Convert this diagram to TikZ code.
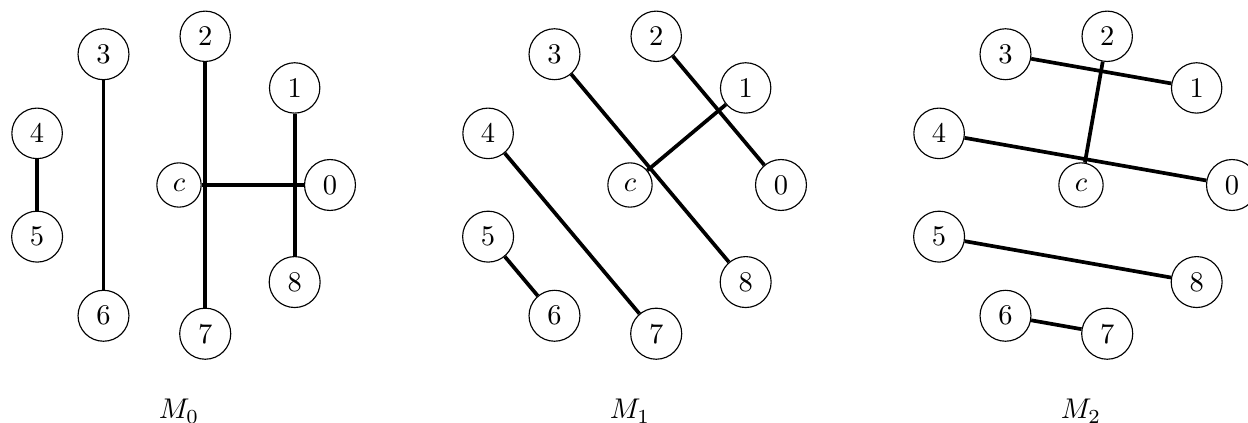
\documentclass[tikz,border=0pt]{standalone}
\begin{document}
\begin{tikzpicture}[x=0.3509pt,y=0.3509pt,
  vtx/.style={circle,draw,line width=0.4pt},
  matchedge/.style={line width=1.3pt}]
\useasboundingbox (0,0) rectangle (1248,423);
\foreach \p/\cx in {0/179,1/630,2/1081}{
  \begin{scope}[shift={(\cx,238)}]
    \node[vtx] (c\p) at (0,0) {$c$};
    \foreach \i in {0,...,8}{
      \node[vtx] (n\p-\i) at (\i*40:151) {\i};
    }
    \node[anchor=base] (lab\p) at (0,-234) {$M_{\p}$};
  \end{scope}
}
% M0
\draw[matchedge] (c0) -- (n0-0);
\draw[matchedge] (n0-1) -- (n0-8);
\draw[matchedge] (n0-2) -- (n0-7);
\draw[matchedge] (n0-3) -- (n0-6);
\draw[matchedge] (n0-4) -- (n0-5);
% M1
\draw[matchedge] (c1) -- (n1-1);
\draw[matchedge] (n1-2) -- (n1-0);
\draw[matchedge] (n1-3) -- (n1-8);
\draw[matchedge] (n1-4) -- (n1-7);
\draw[matchedge] (n1-5) -- (n1-6);
% M2
\draw[matchedge] (c2) -- (n2-2);
\draw[matchedge] (n2-3) -- (n2-1);
\draw[matchedge] (n2-4) -- (n2-0);
\draw[matchedge] (n2-5) -- (n2-8);
\draw[matchedge] (n2-6) -- (n2-7);
\end{tikzpicture}
\end{document}
